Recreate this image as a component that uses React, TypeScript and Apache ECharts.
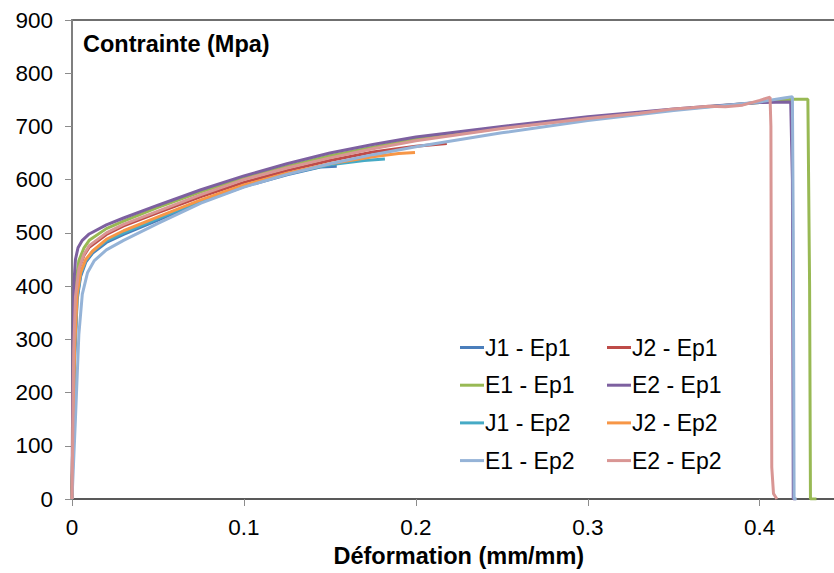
import React, { useEffect, useRef } from "react";
import * as echarts from "echarts";

const seriesNames = [
  "J1 - Ep1",
  "J2 - Ep1",
  "E1 - Ep1",
  "E2 - Ep1",
  "J1 - Ep2",
  "J2 - Ep2",
  "E1 - Ep2",
  "E2 - Ep2",
];

const seriesColors = [
  "#4A7EBB",
  "#BE4B48",
  "#98B954",
  "#7D60A0",
  "#46AAC5",
  "#F79646",
  "#95B3D7",
  "#D99694",
];

const j1Ep1 = [
  [0, 0], [0.0015, 260], [0.003, 375], [0.005, 418], [0.008, 445], [0.012, 462],
  [0.02, 482], [0.03, 497], [0.05, 524], [0.075, 558], [0.1, 587], [0.125, 609],
  [0.145, 624], [0.154, 625],
];

const j2Ep1 = [
  [0, 0], [0.001, 290], [0.002, 385], [0.004, 432], [0.007, 458], [0.01, 473],
  [0.02, 497], [0.03, 513], [0.05, 538], [0.075, 568], [0.1, 595], [0.125, 617],
  [0.15, 636], [0.175, 652], [0.2, 663], [0.218, 668],
];

const e1Ep1 = [
  [0, 0], [0.001, 300], [0.002, 400], [0.004, 448], [0.007, 472], [0.01, 486],
  [0.02, 508], [0.03, 522], [0.05, 548], [0.075, 577], [0.1, 603], [0.125, 625],
  [0.15, 645], [0.175, 661], [0.2, 676], [0.25, 697], [0.3, 716], [0.35, 732],
  [0.4, 745], [0.419, 751], [0.428, 751], [0.429, 400], [0.4295, 0], [0.433, 0],
];

const e2Ep1 = [
  [0, 0], [0.0006, 300], [0.0012, 410], [0.002, 450], [0.0035, 472], [0.006, 486],
  [0.01, 498], [0.02, 515], [0.03, 528], [0.05, 552], [0.075, 581], [0.1, 607],
  [0.125, 630], [0.15, 650], [0.175, 666], [0.2, 680], [0.25, 700], [0.3, 718],
  [0.35, 733], [0.4, 745], [0.418, 746], [0.419, 600], [0.4195, 0], [0.421, 0],
];

const j1Ep2 = [
  [0, 0], [0.0015, 270], [0.003, 380], [0.005, 422], [0.008, 448], [0.012, 465],
  [0.02, 485], [0.03, 500], [0.05, 527], [0.075, 560], [0.1, 588], [0.125, 611],
  [0.15, 628], [0.17, 636], [0.182, 639],
];

const j2Ep2 = [
  [0, 0], [0.0015, 280], [0.003, 385], [0.005, 425], [0.008, 450], [0.012, 466],
  [0.02, 488], [0.03, 504], [0.05, 530], [0.075, 562], [0.1, 590], [0.125, 612],
  [0.15, 630], [0.175, 643], [0.19, 649], [0.1995, 651],
];

const e1Ep2 = [
  [0, 0], [0.002, 150], [0.004, 310], [0.006, 385], [0.009, 425], [0.013, 448],
  [0.02, 468], [0.03, 486], [0.05, 518], [0.075, 556], [0.1, 586], [0.125, 610],
  [0.15, 630], [0.175, 647], [0.2, 662], [0.225, 675], [0.25, 688], [0.3, 711],
  [0.35, 730], [0.4, 746], [0.415, 754], [0.419, 756], [0.4195, 500], [0.42, 0],
  [0.4215, 0],
];

const e2Ep2 = [
  [0, 0], [0.001, 280], [0.002, 380], [0.004, 432], [0.007, 460], [0.01, 476],
  [0.02, 500], [0.03, 516], [0.05, 541], [0.075, 572], [0.1, 600], [0.125, 622],
  [0.15, 641], [0.175, 658], [0.2, 673], [0.25, 696], [0.3, 715], [0.33, 725],
  [0.35, 733], [0.36, 735], [0.37, 738], [0.38, 737], [0.39, 740], [0.4, 749],
  [0.406, 755], [0.4065, 700], [0.4068, 300], [0.407, 60], [0.408, 10], [0.41, 0],
];

const seriesData = [j1Ep1, j2Ep1, e1Ep1, e2Ep1, j1Ep2, j2Ep2, e1Ep2, e2Ep2];

const yTicks = { min: 0, max: 900, interval: 100 };
const xTicks = { min: 0, max: 0.45, interval: 0.1 };

const yTitle = "Contrainte (Mpa)";
const xTitle = "Déformation (mm/mm)";

const FONT = "'Liberation Sans', Arial, sans-serif";

export default function App() {
  const ref = useRef<HTMLDivElement>(null);

  useEffect(() => {
    if (!ref.current) return;
    const chart = echarts.init(ref.current, undefined, { renderer: "svg" });
    const legendStyle = {
      orient: "vertical" as const,
      icon: "rect",
      itemWidth: 24,
      itemHeight: 3,
      itemGap: 14.7,
      textStyle: { fontSize: 23, lineHeight: 23, color: "#000", fontFamily: FONT, padding: [0, 0, 0, -4] },
      top: 331,
    };
    chart.setOption({
      animation: false,
      textStyle: { fontFamily: FONT },
      title: {
        text: yTitle,
        left: 83,
        top: 32,
        padding: 0,
        textStyle: { fontSize: 23.5, fontWeight: "bold", color: "#000", fontFamily: FONT },
      },
      grid: {
        left: 72,
        top: 20,
        width: 773.7,
        height: 479,
        show: true,
        borderColor: "#404040",
        borderWidth: 1.5,
        backgroundColor: "transparent",
      },
      legend: [
        {
          ...legendStyle,
          left: 455,
          data: [seriesNames[0], seriesNames[2], seriesNames[4], seriesNames[6]],
        },
        {
          ...legendStyle,
          left: 602,
          data: [seriesNames[1], seriesNames[3], seriesNames[5], seriesNames[7]],
        },
      ],
      xAxis: {
        type: "value",
        min: xTicks.min,
        max: xTicks.max,
        interval: xTicks.interval,
        name: xTitle,
        nameLocation: "middle",
        nameGap: 41,
        nameTextStyle: { fontSize: 23.5, fontWeight: "bold", color: "#000", fontFamily: FONT },
        axisLine: { show: true, lineStyle: { color: "#595959", width: 2 } },
        axisTick: { show: true, length: 7, lineStyle: { color: "#8c8c8c", width: 1 } },
        axisLabel: {
          fontSize: 22.5,
          color: "#000",
          margin: 17,
          showMaxLabel: false,
          fontFamily: FONT,
        },
        splitLine: { show: false },
      },
      yAxis: {
        type: "value",
        min: yTicks.min,
        max: yTicks.max,
        interval: yTicks.interval,
        axisLine: { show: true, lineStyle: { color: "#7f7f7f", width: 2 } },
        axisTick: { show: true, length: 7, lineStyle: { color: "#8c8c8c", width: 1 } },
        axisLabel: { fontSize: 22.5, color: "#000", margin: 19, fontFamily: FONT },
        splitLine: { show: false },
      },
      series: seriesNames.map((name, i) => ({
        name,
        type: "line",
        data: seriesData[i],
        symbol: "none",
        smooth: false,
        color: seriesColors[i],
        lineStyle: { width: 3, color: seriesColors[i] },
        z: 2 + i,
      })),
    });
    return () => chart.dispose();
  }, []);

  return (
    <div
      style={{
        position: "fixed",
        left: 0,
        top: 0,
        width: 834,
        height: 573,
        overflow: "hidden",
        background: "#fff",
      }}
    >
      <div ref={ref} style={{ width: 860, height: 573 }} />
    </div>
  );
}
